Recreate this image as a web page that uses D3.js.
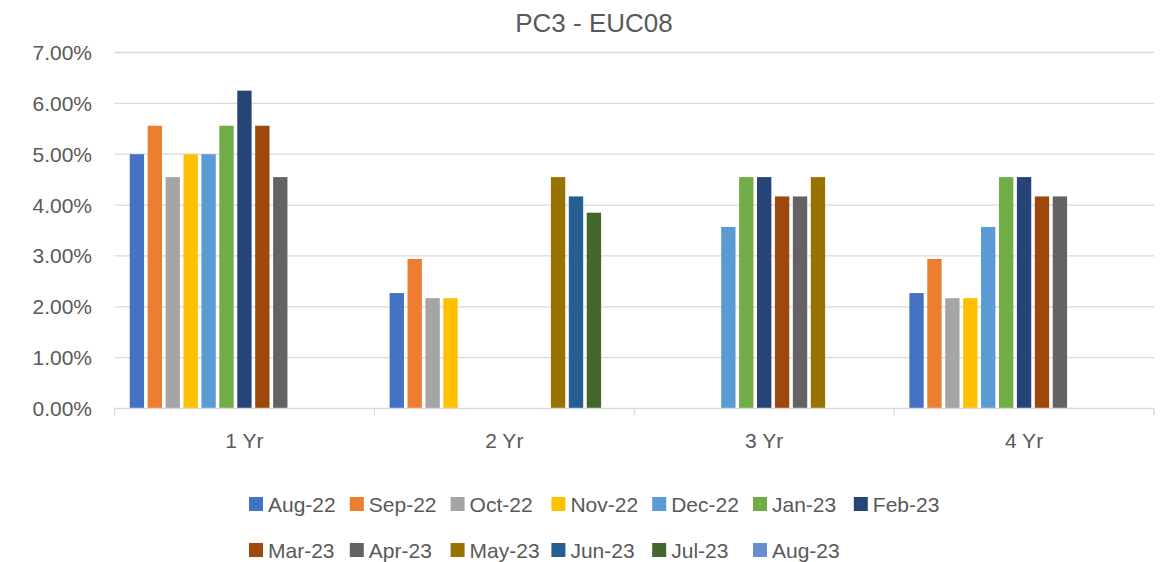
<!DOCTYPE html>
<html lang="en">
<head>
    <meta charset="utf-8">
    <title>PC3 - EUC08</title>
    <script src="https://d3js.org/d3.v7.min.js"></script>
    <style>
        body, html {
            margin: 0;
            padding: 0;
            width: 100%;
            height: 100%;
            overflow: hidden;
            background: #fff;
        }
        text {
            font-family: "Liberation Sans", Arial, sans-serif;
            fill: #595959;
        }
    </style>
</head>
<body>
    <svg width="1166" height="562"></svg>

    <script>
        // categories and series
        var categories = ["1 Yr", "2 Yr", "3 Yr", "4 Yr"];
        var series = ["Aug-22", "Sep-22", "Oct-22", "Nov-22", "Dec-22", "Jan-23", "Feb-23",
                      "Mar-23", "Apr-23", "May-23", "Jun-23", "Jul-23", "Aug-23"];
        var colors = ["#4472C4", "#ED7D31", "#A5A5A5", "#FFC000", "#5B9BD5", "#70AD47", "#264478",
                      "#9E480E", "#636363", "#997300", "#255E91", "#43682B", "#698ED0"];

        // values in %, one array per category (order follows series), null = no bar
        var yr1 = [5.00, 5.56, 4.55, 5.00, 5.00, 5.56, 6.25, 5.56, 4.55, null, null, null, null];
        var yr2 = [2.27, 2.94, 2.17, 2.17, null, null, null, null, null, 4.55, 4.17, 3.85, null];
        var yr3 = [null, null, null, null, 3.57, 4.55, 4.55, 4.17, 4.17, 4.55, null, null, null];
        var yr4 = [2.27, 2.94, 2.17, 2.17, 3.57, 4.55, 4.55, 4.17, 4.17, null, null, null, null];
        var yTicks = [0, 1, 2, 3, 4, 5, 6, 7];

        var values = [yr1, yr2, yr3, yr4];

        var svg = d3.select("svg");

        var x0 = d3.scaleBand()
            .domain(categories)
            .range([114.5, 1154]);

        var x1 = d3.scaleBand()
            .domain(series)
            .range([0, x0.bandwidth()])
            .paddingInner(0.2)
            .paddingOuter(0.85);

        var y = d3.scaleLinear()
            .domain([0, 7])
            .range([408.5, 52.5]);

        var color = d3.scaleOrdinal().domain(series).range(colors);

        // gridlines
        svg.append("g")
            .selectAll("line")
            .data(yTicks.filter(function (d) { return d > 0; }))
            .enter().append("line")
            .attr("x1", 114.5)
            .attr("x2", 1154)
            .attr("y1", function (d) { return y(d); })
            .attr("y2", function (d) { return y(d); })
            .attr("stroke", "#d9d9d9")
            .attr("stroke-width", 1.3);

        // y labels
        svg.append("g")
            .selectAll("text")
            .data(yTicks)
            .enter().append("text")
            .attr("x", 92)
            .attr("y", function (d) { return y(d); })
            .attr("dy", "0.36em")
            .attr("text-anchor", "end")
            .style("font-size", "21px")
            .text(function (d) { return d.toFixed(2) + "%"; });

        // bars
        var rows = [];
        categories.forEach(function (c, i) {
            values[i].forEach(function (v, j) {
                if (v != null) rows.push({ cat: c, name: series[j], value: v });
            });
        });

        svg.append("g")
            .selectAll("rect")
            .data(rows)
            .enter().append("rect")
            .attr("x", function (d) { return x0(d.cat) + x1(d.name); })
            .attr("width", x1.bandwidth())
            .attr("y", function (d) { return y(d.value); })
            .attr("height", function (d) { return y(0) - y(d.value); })
            .attr("fill", function (d) { return color(d.name); });

        // x axis line and category ticks
        var axis = svg.append("g");
        axis.append("line")
            .attr("x1", 114.5).attr("x2", 1154)
            .attr("y1", y(0)).attr("y2", y(0))
            .attr("stroke", "#d9d9d9").attr("stroke-width", 1.3);

        var bounds = categories.map(function (c) { return x0(c); }).concat([x0.range()[1]]);
        axis.selectAll("line.tick")
            .data(bounds)
            .enter().append("line")
            .attr("class", "tick")
            .attr("x1", function (d) { return d; })
            .attr("x2", function (d) { return d; })
            .attr("y1", y(0))
            .attr("y2", y(0) + 7)
            .attr("stroke", "#d9d9d9").attr("stroke-width", 1.3);

        axis.selectAll("text")
            .data(categories)
            .enter().append("text")
            .attr("x", function (d) { return x0(d) + x0.bandwidth() / 2; })
            .attr("y", 448)
            .attr("text-anchor", "middle")
            .style("font-size", "21px")
            .text(function (d) { return d; });

        // title
        svg.append("text")
            .attr("x", 594)
            .attr("y", 32)
            .attr("text-anchor", "middle")
            .style("font-size", "26px")
            .text("PC3 - EUC08");

        // legend: 7 columns grid
        var perRow = 7, colW = 100.8, legendLeft = 249;
        var legend = svg.append("g");
        var item = legend.selectAll("g")
            .data(series)
            .enter().append("g")
            .attr("transform", function (d, i) {
                var col = i % perRow, row = Math.floor(i / perRow);
                return "translate(" + (legendLeft + col * colW) + "," + (504 + row * 46) + ")";
            });

        item.append("rect")
            .attr("x", 0)
            .attr("y", -7)
            .attr("width", 14)
            .attr("height", 14)
            .attr("fill", function (d) { return color(d); });

        item.append("text")
            .attr("x", 19)
            .attr("y", 0)
            .attr("dy", "0.36em")
            .style("font-size", "21px")
            .text(function (d) { return d; });
    </script>
</body>
</html>
